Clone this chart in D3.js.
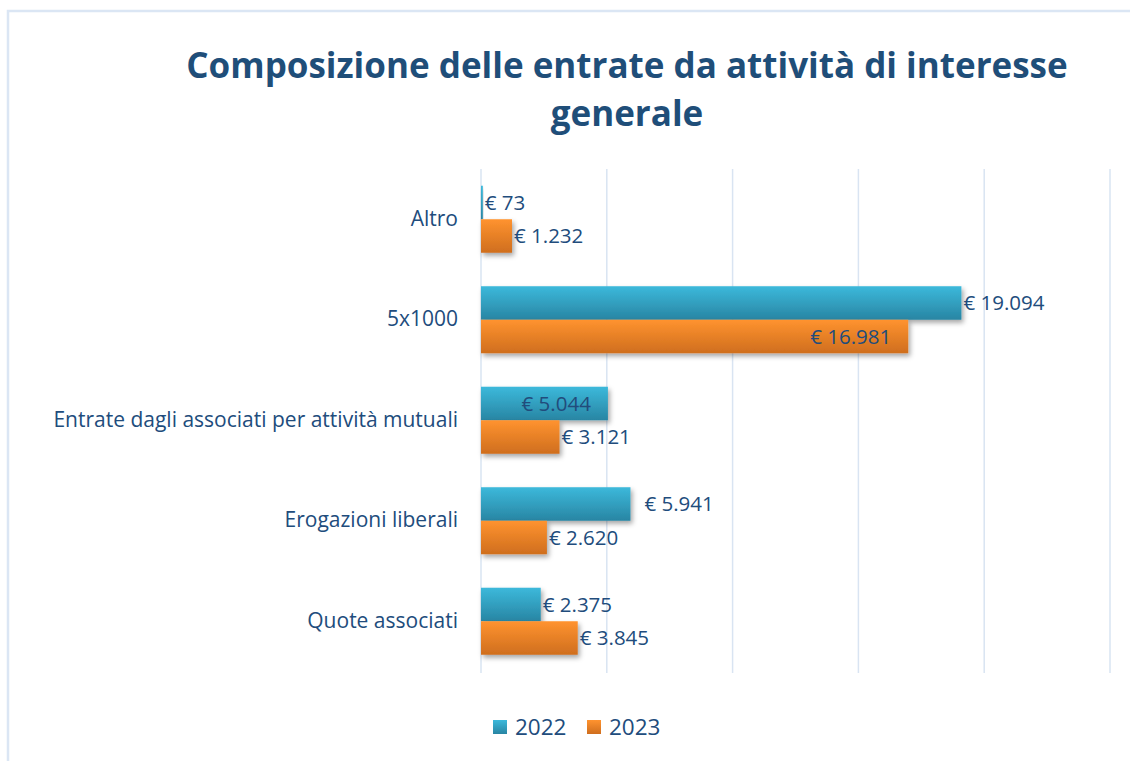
<!DOCTYPE html>
<html>
<head>
<meta charset="utf-8">
<script src="https://cdn.jsdelivr.net/npm/d3@7"></script>
<style>
  body { margin: 0; background: #fff; }
  svg text { font-family: "Open Sans", Lato, sans-serif; }
</style>
</head>
<body>
<div id="chart"></div>
<script>
// dati ----------------------------------------------------------------------------------------
const categories = ['Altro', '5x1000', 'Entrate dagli associati per attività mutuali', 'Erogazioni liberali', 'Quote associati'];
const years = ['2022', '2023'];
const values2022 = [73, 19094, 5044, 5941, 2375];
const values2023 = [1232, 16981, 3121, 2620, 3845];
// dove mettere l'etichetta: fuori o dentro la barra
const labelPos2022 = ['out', 'out', 'in', 'outFar', 'out'];
const labelPos2023 = ['out', 'in', 'out', 'out', 'out'];
const xTicks = [0, 5000, 10000, 15000, 20000, 25000];
const titleLines = ['Composizione delle entrate da attività di interesse', 'generale'];
// ---------------------------------------------------------------------------------------------
const width = 1130, height = 761;
const textColor = '#214c7c';
const margin = {top: 169, left: 481, right: 20, bottom: 89};
const fmt = v => '€ ' + d3.format(',')(v).replace(/,/g, '.');
const labelX = d => {
  if (d.pos === 'in') return x(d.value) - 17;
  if (d.pos === 'outFar') return x(d.value) + 14;
  return x(d.value) + 2;
};

const svg = d3.select('#chart').append('svg')
  .attr('width', width)
  .attr('height', height);

const defs = svg.append('defs');
const grads = [['g2022', '#3cb9db', '#2885a3'], ['g2023', '#ff932f', '#cf6e1e']];
grads.forEach(([id, c1, c2]) => {
  const lg = defs.append('linearGradient').attr('id', id)
    .attr('x1', 0).attr('y1', 0).attr('x2', 0).attr('y2', 1);
  lg.append('stop').attr('offset', '0%').attr('stop-color', c1);
  lg.append('stop').attr('offset', '100%').attr('stop-color', c2);
});
const shadow = defs.append('filter').attr('id', 'shadow')
  .attr('x', '-10%').attr('y', '-10%').attr('width', '130%').attr('height', '140%');
shadow.append('feDropShadow').attr('dx', 2).attr('dy', 3).attr('stdDeviation', 2.5)
  .attr('flood-color', '#000').attr('flood-opacity', 0.35);

// cornice -------------------------------------------------------------------------------------
svg.append('rect')
  .attr('x', 8).attr('y', 11)
  .attr('width', width + 20).attr('height', height + 20)
  .attr('fill', 'none')
  .attr('stroke', '#dbe6f4')
  .attr('stroke-width', 2.5);

// titolo --------------------------------------------------------------------------------------
svg.append('text')
  .attr('x', 627).attr('y', 78)
  .attr('text-anchor', 'middle')
  .attr('fill', '#1f4e79')
  .attr('font-size', '35px')
  .attr('font-weight', 'bold')
  .selectAll('tspan')
  .data(titleLines)
  .enter()
  .append('tspan')
  .attr('x', 627)
  .attr('dy', (d, i) => i === 0 ? 0 : 48)
  .text(d => d);

// scale ---------------------------------------------------------------------------------------
const x = d3.scaleLinear()
  .domain([0, 25000])
  .range([margin.left, 1110]);
const y = d3.scaleBand()
  .domain(categories)
  .range([margin.top, height - margin.bottom - 0.5])
  .paddingInner(0.333)
  .paddingOuter(0.1665);
const ySub = d3.scaleBand()
  .domain(years)
  .range([0, y.bandwidth()]);

// griglia -------------------------------------------------------------------------------------
svg.append('g')
  .selectAll('line')
  .data(xTicks)
  .enter()
  .append('line')
  .attr('x1', d => x(d)).attr('x2', d => x(d))
  .attr('y1', 169).attr('y2', 673)
  .attr('stroke', '#d9e4f2')
  .attr('stroke-width', 1.5);

// etichette categorie -------------------------------------------------------------------------
const yAxis = svg.append('g')
  .attr('transform', 'translate(' + (margin.left - 23) + ',0)')
  .call(d3.axisLeft(y).tickSize(0).tickPadding(0));
yAxis.select('.domain').remove();
yAxis.selectAll('text')
  .attr('font-size', '21px')
  .attr('fill', textColor)
  .style('font-family', '"Open Sans", sans-serif');

// barre ---------------------------------------------------------------------------------------
const rows = categories.map((c, i) => ({
  cat: c,
  items: [
    {year: '2022', value: values2022[i], pos: labelPos2022[i]},
    {year: '2023', value: values2023[i], pos: labelPos2023[i]}
  ]
}));

const group = svg.selectAll('.cat')
  .data(rows)
  .enter()
  .append('g')
  .attr('class', 'cat')
  .attr('transform', d => 'translate(0,' + y(d.cat) + ')');

group.selectAll('rect')
  .data(d => d.items)
  .enter()
  .append('rect')
  .attr('x', x(0))
  .attr('y', d => ySub(d.year))
  .attr('width', d => x(d.value) - x(0))
  .attr('height', ySub.bandwidth())
  .attr('fill', d => 'url(#g' + d.year + ')')
  .attr('filter', 'url(#shadow)');

group.selectAll('text.val')
  .data(d => d.items)
  .enter()
  .append('text')
  .attr('class', 'val')
  .attr('x', labelX)
  .attr('y', d => ySub(d.year) + ySub.bandwidth() / 2)
  .attr('dy', '0.36em')
  .attr('text-anchor', d => d.pos === 'in' ? 'end' : 'start')
  .attr('font-size', '20.5px')
  .attr('fill', textColor)
  .text(d => fmt(d.value));

// legenda -------------------------------------------------------------------------------------
const legend = svg.append('g')
  .attr('transform', 'translate(493,727)');
const legItem = legend.selectAll('g')
  .data(years)
  .enter()
  .append('g')
  .attr('transform', (d, i) => 'translate(' + (i * 94) + ',0)');
legItem.append('rect')
  .attr('x', 0).attr('y', -7)
  .attr('width', 14).attr('height', 14)
  .attr('fill', d => 'url(#g' + d + ')');
legItem.append('text')
  .attr('x', 22).attr('y', 0)
  .attr('dy', '0.36em')
  .attr('font-size', '22.5px')
  .attr('fill', textColor)
  .text(d => d);
</script>
</body>
</html>
